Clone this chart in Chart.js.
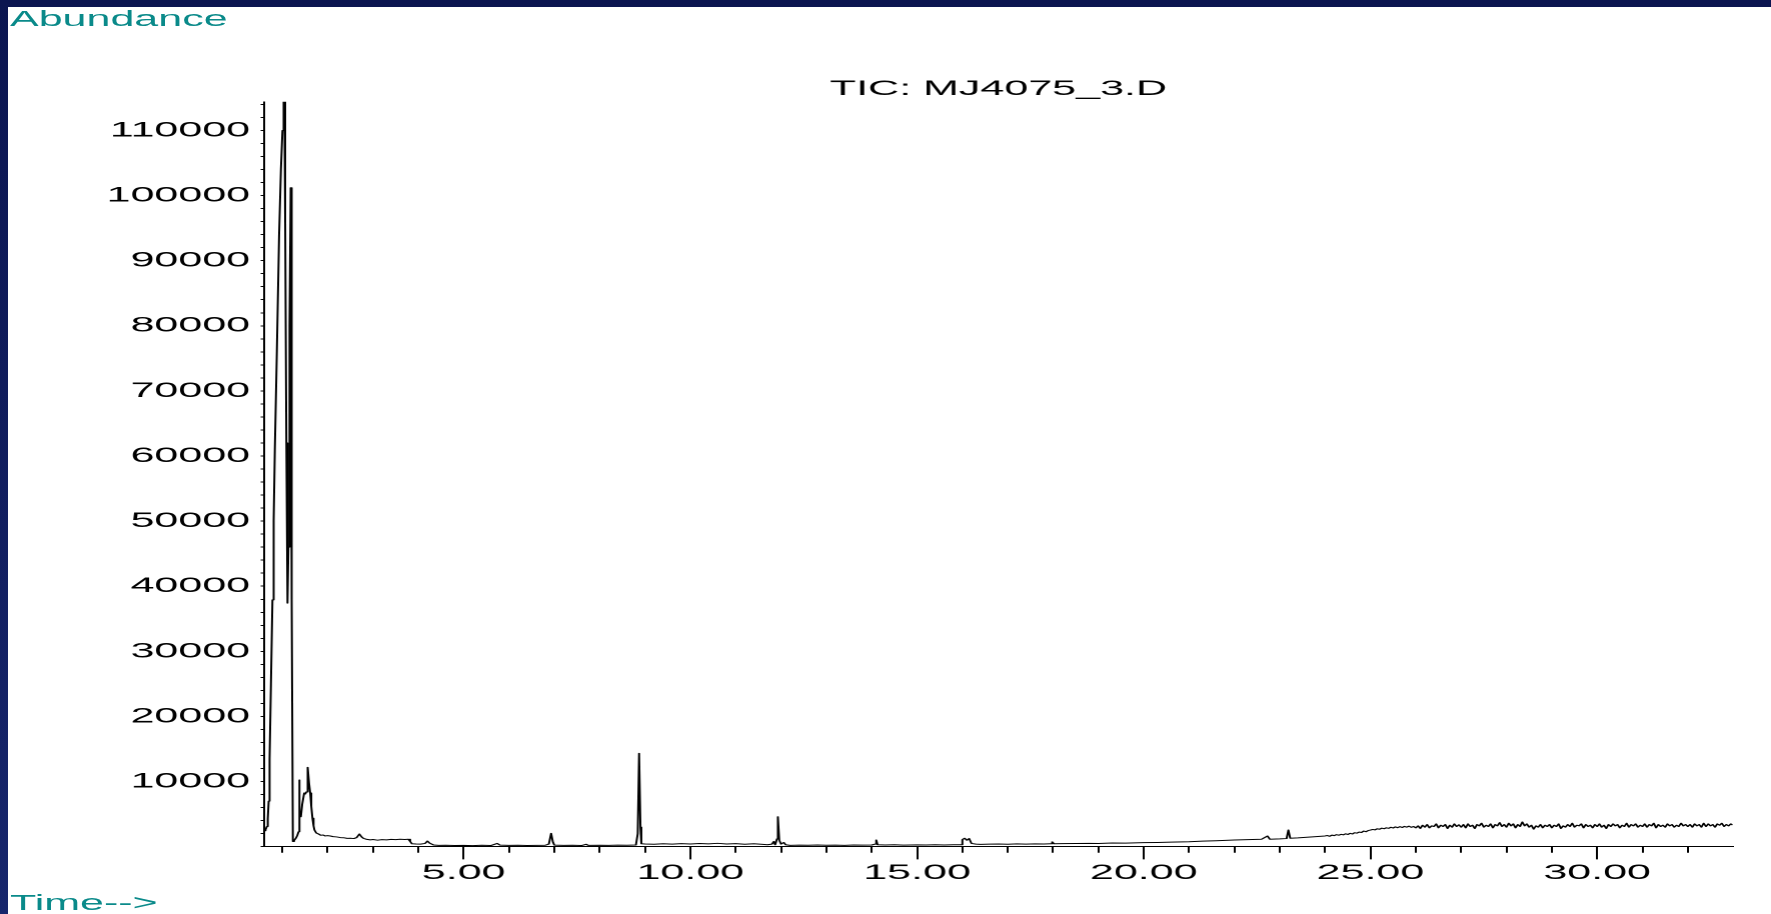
<!DOCTYPE html>
<html>
<head>
<meta charset="utf-8">
<title>TIC: MJ4075_3.D</title>
<script src="https://cdn.jsdelivr.net/npm/chart.js@4.4.1/dist/chart.umd.min.js"></script>
<style>
  html, body { margin: 0; padding: 0; }
  body {
    width: 1771px;
    height: 914px;
    overflow: hidden;
    position: relative;
    background: linear-gradient(180deg, #0b1550 0%, #17266c 100%);
  }
  #panel { position: absolute; left: 8px; top: 7px; right: 0; bottom: 0; background: #fff; }
  /* the original screen grab is stretched 2x horizontally, so draw at half width and stretch */
  #stretch { position: absolute; left: 0; top: 0; width: 885.5px; height: 914px; transform: scaleX(2); transform-origin: 0 0; }
  .label { position: absolute; left: 5px; font: 21.5px "Liberation Sans", Arial, sans-serif; line-height: 1; color: #0a8a8a; white-space: nowrap; }
</style>
</head>
<body>
<div id="panel"></div>
<div id="stretch">
  <canvas id="tic"></canvas>
  <div class="label" style="top: 9px;">Abundance</div>
  <div class="label" style="top: 893px;">Time--&gt;</div>
</div>
<script>
// retention time (min) and abundance
const retentionTime = [
  0.60, 0.63, 0.66, 0.68, 0.70, 0.72, 0.75, 0.783, 0.81, 0.836, 0.881, 0.93, 0.97, 1.004, 1.025, 1.035, 1.045,
  1.064, 1.09, 1.115, 1.135, 1.16, 1.185, 1.20, 1.215, 1.234, 1.26, 1.30, 1.33, 1.36, 1.373, 1.385, 1.41,
  1.44, 1.483, 1.51, 1.527, 1.55, 1.56, 1.571, 1.59, 1.616, 1.64, 1.666, 1.69, 1.71, 1.75, 1.80, 1.85,
  1.90, 1.95, 2.00, 2.06, 2.12, 2.20, 2.28, 2.35, 2.43, 2.50, 2.58, 2.64, 2.70, 2.75, 2.79, 2.85, 2.94,
  3.00, 3.10, 3.20, 3.30, 3.40, 3.50, 3.60, 3.70, 3.78, 3.82, 3.86, 3.95, 4.05, 4.15, 4.20, 4.25, 4.34,
  4.45, 4.60, 4.80, 5.00, 5.20, 5.40, 5.60, 5.74, 5.80, 6.00, 6.20, 6.40, 6.60, 6.80, 6.88, 6.93, 6.97,
  7.00, 7.20, 7.40, 7.60, 7.70, 7.75, 8.00, 8.20, 8.40, 8.60, 8.80, 8.84, 8.87, 8.90, 8.92, 9.00,
  9.20, 9.40, 9.60, 9.80, 10.00, 10.20, 10.40, 10.60, 10.80, 11.00, 11.20, 11.40, 11.60, 11.70, 11.80,
  11.84, 11.87, 11.91, 11.93, 11.96, 12.00, 12.06, 12.10, 12.20, 12.40, 12.60, 12.80, 13.00, 13.20,
  13.40, 13.60, 13.80, 14.00, 14.08, 14.10, 14.13, 14.30, 14.50, 14.70, 15.00, 15.20, 15.40, 15.60,
  15.80, 15.97, 16.00, 16.05, 16.10, 16.15, 16.20, 16.30, 16.40, 16.60, 16.80, 17.00, 17.20, 17.40,
  17.60, 17.80, 17.95, 17.98, 18.02, 18.20, 18.50, 18.80, 19.00, 19.30, 19.60, 20.00, 20.30, 20.60,
  21.00, 21.30, 21.60, 22.00, 22.30, 22.60, 22.73, 22.78, 23.00, 23.15, 23.19, 23.23, 23.40, 23.60,
  23.80,
  24.00, 24.05, 24.10, 24.15, 24.20, 24.25, 24.30, 24.35, 24.40, 24.45, 24.50, 24.55, 24.60, 24.65, 24.70, 24.75, 24.80, 24.85, 24.90, 24.95,
  25.00, 25.05, 25.10, 25.15, 25.20, 25.25, 25.30, 25.35, 25.40, 25.45, 25.50, 25.55, 25.60, 25.65, 25.70, 25.75, 25.80, 25.85, 25.90, 25.95,
  26.00, 26.05, 26.10, 26.15, 26.20, 26.25, 26.30, 26.35, 26.40, 26.45, 26.50, 26.55, 26.60, 26.65, 26.70, 26.75, 26.80, 26.85, 26.90, 26.95,
  27.00, 27.05, 27.10, 27.15, 27.20, 27.25, 27.30, 27.35, 27.40, 27.45, 27.50, 27.55, 27.60, 27.65, 27.70, 27.75, 27.80, 27.85, 27.90, 27.95,
  28.00, 28.05, 28.10, 28.15, 28.20, 28.25, 28.30, 28.35, 28.40, 28.45, 28.50, 28.55, 28.60, 28.65, 28.70, 28.75, 28.80, 28.85, 28.90, 28.95,
  29.00, 29.05, 29.10, 29.15, 29.20, 29.25, 29.30, 29.35, 29.40, 29.45, 29.50, 29.55, 29.60, 29.65, 29.70, 29.75, 29.80, 29.85, 29.90, 29.95,
  30.00, 30.05, 30.10, 30.15, 30.20, 30.25, 30.30, 30.35, 30.40, 30.45, 30.50, 30.55, 30.60, 30.65, 30.70, 30.75, 30.80, 30.85, 30.90, 30.95,
  31.00, 31.05, 31.10, 31.15, 31.20, 31.25, 31.30, 31.35, 31.40, 31.45, 31.50, 31.55, 31.60, 31.65, 31.70, 31.75, 31.80, 31.85, 31.90, 31.95,
  32.00, 32.05, 32.10, 32.15, 32.20, 32.25, 32.30, 32.35, 32.40, 32.45, 32.50, 32.55, 32.60, 32.65, 32.70, 32.75, 32.80, 32.85, 32.90, 32.95,
  32.99
];
const abundance = [
  2450, 2600, 3100, 4300, 7000, 13500, 25000, 37900, 50000, 61000, 76200, 94000, 104000, 110000, 112500, 118000, 117000,
  96000, 62000, 37400, 46000, 80000, 101200, 72000, 38000, 800, 950, 1300, 1700, 2300, 10240, 5500, 4600,
  6500, 8240, 8100, 8400, 9000, 8700, 12190, 9800, 8240, 6200, 4360, 3200, 2560, 2100, 1950, 1750,
  1800, 1650, 1700, 1640, 1550, 1500, 1400, 1380, 1280, 1300, 1250, 1400, 1950, 1500, 1280, 1150, 1050,
  1100, 1000, 1080, 1050, 1120, 1080, 1150, 1100, 1150, 800, 450, 420, 400, 500, 870, 550, 260,
  200, 230, 180, 200, 170, 220, 180, 500, 250, 200, 220, 180, 200, 220, 400, 2050, 700,
  250, 200, 220, 180, 370, 200, 230, 200, 250, 230, 260, 2000, 14330, 3000, 450, 420,
  380, 450, 400, 480, 420, 500, 430, 520, 420, 470, 380, 450, 350, 300, 400,
  800, 300, 1200, 4600, 1000, 400, 650, 300, 200, 250, 220, 260, 230, 250,
  210, 270, 240, 260, 400, 1030, 300, 260, 300, 250, 280, 260, 290, 270,
  300, 300, 1100, 1300, 1000, 1250, 500, 400, 350, 400, 420, 380, 430, 400,
  440, 420, 450, 750, 450, 480, 500, 520, 500, 560, 550, 620, 650, 700,
  760, 850, 920, 1030, 1080, 1150, 1640, 1150, 1200, 1250, 2560, 1300, 1350, 1450,
  1550,
  1650, 1720, 1600, 1780, 1700, 1850, 1760, 1900, 1820, 1980, 1880, 2050, 1950, 2150, 2080, 2250, 2180, 2400, 2300, 2480,
  2550, 2650, 2580, 2750, 2680, 2850, 2760, 2900, 2820, 2980, 2870, 3050, 2920, 3080, 2950, 3120, 3000, 3150, 2980, 3100,
  2900, 3200, 2800, 3300, 3000, 3400, 2900, 3200, 3100, 3500, 2900, 3300, 3100, 3400, 2800, 3300, 3000, 3500, 3100, 3360,
  3000, 3400, 2900, 3500, 3100, 3300, 2800, 3400, 3200, 3600, 3000, 3300, 3100, 3500, 2900, 3400, 3200, 3700, 3100, 3400,
  3000, 3600, 3200, 3500, 2900, 3400, 3100, 3800, 3200, 3500, 3000, 3300, 2700, 3200, 3000, 3400, 2900, 3300, 3100, 3400,
  2900, 3300, 3100, 3500, 2800, 3200, 3000, 3400, 3100, 3600, 3000, 3300, 3200, 3500, 2900, 3400, 3100, 3300, 2900, 3400,
  3100, 3500, 3000, 3300, 2800, 3400, 3100, 3500, 3200, 3400, 2900, 3300, 3100, 3600, 3000, 3400, 3200, 3500, 3000, 3300,
  3100, 3500, 3000, 3400, 3200, 3600, 2900, 3400, 3100, 3300, 3000, 3500, 3200, 3400, 3000, 3300, 3100, 3600, 3200, 3400,
  3100, 3400, 3000, 3500, 3200, 3400, 3000, 3600, 3100, 3500, 3200, 3400, 3000, 3500, 3300, 3600, 3100, 3400, 3200, 3500,
  3330
];

// labelled ticks
const xMajorTicks = [5, 10, 15, 20, 25, 30];
const yMajorTicks = [10000, 20000, 30000, 40000, 50000, 60000, 70000, 80000, 90000, 100000, 110000];
const xMin = 0.6, xMax = 32.99;
const yMin = 0, yMax = 114400;

// unlabelled minor ticks: every minute and every 2000 counts
const xMinorTicks = [];
for (let m = 1; m < xMax; m++) xMinorTicks.push(m);
const yMinorTicks = [];
for (let v = 0; v <= yMax; v += 2000) yMinorTicks.push(v);

const points = retentionTime.map((t, i) => ({ x: t, y: abundance[i] }));

Chart.defaults.font.family = '"Liberation Sans", Arial, sans-serif';
Chart.defaults.color = '#000';

new Chart(document.getElementById('tic'), {
  type: 'line',
  data: {
    datasets: [{
      data: points,
      xAxisID: 'x',
      yAxisID: 'y',
      borderColor: '#000',
      borderWidth: 1,
      borderJoinStyle: 'round',
      pointRadius: 0,
      fill: false,
      tension: 0
    }]
  },
  options: {
    responsive: true,
    maintainAspectRatio: false,
    animation: false,
    devicePixelRatio: 2,
    layout: { padding: { left: 0, right: 19.65, top: 0, bottom: 0 } },
    plugins: {
      legend: { display: false },
      tooltip: { enabled: false },
      title: {
        display: true,
        text: 'TIC: MJ4075_3.D',
        fullSize: false,
        align: 'center',
        color: '#000',
        font: { size: 21.5, weight: 'normal' },
        padding: { top: 76, bottom: 0 }
      }
    },
    scales: {
      x: {
        type: 'linear',
        position: 'bottom',
        weight: 1,
        min: xMin,
        max: xMax,
        afterBuildTicks: (s) => { s.ticks = xMajorTicks.map(v => ({ value: v })); },
        afterFit: (s) => { s.height = 67.3; },
        grid: { drawOnChartArea: false, tickLength: 12.7, tickColor: '#000', tickWidth: 1 },
        border: { display: true, color: '#000', width: 1 },
        ticks: { autoSkip: false, maxRotation: 0, padding: 1, color: '#000', font: { size: 21.5 }, callback: (v) => v.toFixed(2) }
      },
      xMinor: {
        type: 'linear',
        position: 'bottom',
        weight: 0,
        min: xMin,
        max: xMax,
        afterBuildTicks: (s) => { s.ticks = xMinorTicks.map(v => ({ value: v })); },
        afterFit: (s) => { s.height = 0; },
        grid: { drawOnChartArea: false, tickLength: 6, tickColor: '#000', tickWidth: 1 },
        border: { display: true, color: '#000', width: 1 },
        ticks: { display: false }
      },
      y: {
        type: 'linear',
        position: 'left',
        min: yMin,
        max: yMax,
        afterBuildTicks: (s) => { s.ticks = yMinorTicks.map(v => ({ value: v })); },
        afterFit: (s) => { s.width = 132; },
        grid: { drawOnChartArea: false, tickLength: 1.75, tickColor: '#000', tickWidth: 1 },
        border: { display: true, color: '#000', width: 1 },
        ticks: {
          autoSkip: false,
          padding: 5.25,
          color: '#000',
          font: { size: 21.5 },
          callback: (v) => yMajorTicks.includes(v) ? String(v) : ''
        }
      }
    }
  }
});
</script>
</body>
</html>
